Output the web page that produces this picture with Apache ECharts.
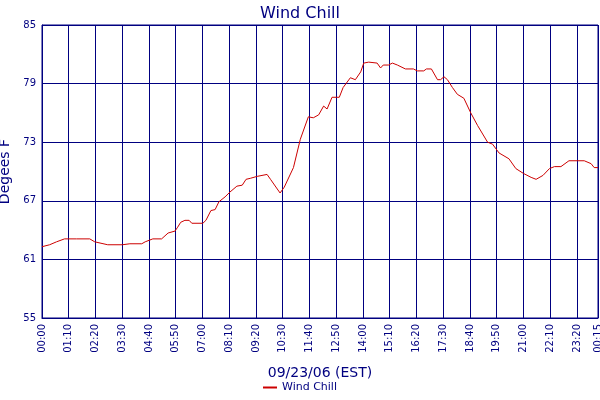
<!DOCTYPE html>
<html><head><meta charset="utf-8">
<script src="https://cdn.jsdelivr.net/npm/echarts@6/dist/echarts.min.js"></script>
<style>html,body{margin:0;padding:0;background:#fff}#c{width:600px;height:400px}</style>
</head><body><div id="c"></div>
<script>
const minutes = [0,20,38,59,90,125,138,172,210,230,261,270,290,313,330,348,355,363,374,385,392,421,429,442,453,463,479,492,510,524,534,545,563,568,589,598,623,634,658,676,697,710,724,737,746,759,778,788,807,820,834,842,855,877,886,893,907,917,930,951,972,982,999,1006,1019,1035,1043,1052,1061,1074,1087,1104,1122,1140,1166,1179,1196,1222,1240,1260,1280,1293,1311,1328,1341,1358,1379,1419,1437,1445,1455];
const windChill = [62.3,62.5,62.8,63.1,63.1,63.1,62.8,62.5,62.5,62.6,62.6,62.8,63.1,63.1,63.7,63.9,64.3,64.8,65.0,65.0,64.7,64.7,65.0,66.0,66.1,66.9,67.4,67.9,68.5,68.6,69.2,69.3,69.5,69.7,69.7,69.2,67.8,68.4,70.4,73.3,75.6,75.5,75.8,76.7,76.4,77.6,77.6,78.6,79.6,79.4,80.2,81.1,81.2,81.1,80.6,80.9,80.9,81.1,80.9,80.5,80.5,80.3,80.3,80.5,80.5,79.4,79.4,79.7,79.4,78.6,77.9,77.5,76.0,74.7,73.0,72.8,71.9,71.3,70.3,69.8,69.4,69.2,69.6,70.3,70.5,70.5,71.1,71.1,70.8,70.4,70.4];
const yTicks = [55,61,67,73,79,85];
const navy = '#000080';
function fmt(v){const m=Math.round(v)%1440;return String(Math.floor(m/60)).padStart(2,'0')+':'+String(m%60).padStart(2,'0');}
const chart = echarts.init(document.getElementById('c'));
chart.setOption({
  animation:false,
  textStyle:{fontFamily:'DejaVu Sans'},
  title:{text:'Wind Chill',left:'center',top:1,textStyle:{color:navy,fontSize:16,fontWeight:'normal',fontFamily:'DejaVu Sans'}},
  legend:{bottom:2,left:'center',itemWidth:14,itemHeight:2,icon:'rect',textStyle:{color:navy,fontSize:11},data:['Wind Chill']},
  grid:{left:42,right:2,top:25,bottom:82,show:true,borderColor:navy,borderWidth:1,containLabel:false,outerBoundsMode:'none'},
  xAxis:{type:'value',min:0,max:1455,interval:70,name:'09/23/06 (EST)',nameLocation:'middle',nameGap:48,
    nameTextStyle:{color:navy,fontSize:14},
    axisLine:{lineStyle:{color:navy}},axisTick:{show:false},
    axisLabel:{rotate:90,color:navy,fontSize:10,formatter:fmt,showMaxLabel:true,showMinLabel:true,margin:6},
    splitLine:{show:true,lineStyle:{color:navy,width:1}}},
  yAxis:{type:'value',min:55,max:85,interval:6,name:'Degees F',nameLocation:'middle',nameGap:27,
    nameTextStyle:{color:navy,fontSize:14},
    axisLine:{lineStyle:{color:navy}},axisTick:{show:false},
    axisLabel:{color:navy,fontSize:10,margin:6,formatter:v=>yTicks.includes(v)?String(v):''},
    splitLine:{show:true,lineStyle:{color:navy,width:1}}},
  series:[{name:'Wind Chill',type:'line',showSymbol:false,data:minutes.map((m,i)=>[m,windChill[i]]),
    lineStyle:{color:'#CC0000',width:1},itemStyle:{color:'#CC0000'}}]
});
</script></body></html>
